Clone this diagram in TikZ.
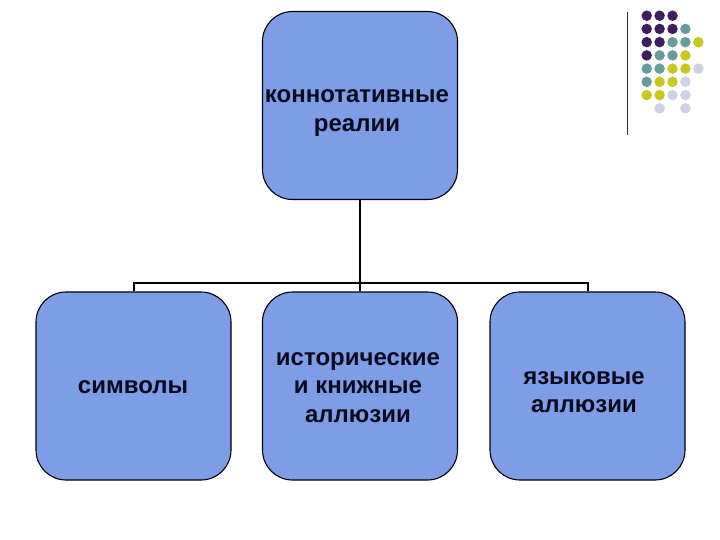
\documentclass[tikz,border=0pt]{standalone}
\usepackage{fontspec}
\setmainfont{Liberation Sans}
\definecolor{boxfill}{RGB}{125,157,230}
\definecolor{txtcol}{RGB}{10,10,30}
\definecolor{dotP}{RGB}{62,30,92}
\definecolor{dotT}{RGB}{104,156,156}
\definecolor{dotY}{RGB}{200,200,32}
\definecolor{dotL}{RGB}{208,208,232}
\tikzset{
  box/.style={draw=black, line width=1.1pt, fill=boxfill, rounded corners=30pt,
    minimum width=195pt, minimum height=188pt, inner sep=0pt},
  txt/.style={align=center, inner sep=0pt, text=txtcol,
    font=\fontsize{24}{28.6}\selectfont\bfseries},
  conn/.style={draw=black, line width=2pt},
  dot/.style={circle, inner sep=0pt, minimum size=10.5pt}
}
\def\nodot{N}
\begin{document}
\begin{tikzpicture}[x=1pt,y=-1pt]
\useasboundingbox (0,0) rectangle (720,540);
\node[box] (top) at (360,105.5) {};
\node[box] (left) at (133.5,386) {};
\node[box] (mid) at (360,386) {};
\node[box] (right) at (587.5,386) {};
\node[txt] (topT) at (357,113) {коннотативные\\реалии};
\node[txt] (leftT) at (133,387) {символы};
\node[txt] (midT) at (358,387.5) {исторические\\и книжные\\аллюзии};
\node[txt] (rightT) at (584,392) {языковые\\аллюзии};
\coordinate (j) at (360,283);
\draw[conn] (top.south) -- (mid.north);
\draw[conn] (left.north) |- (j) -| (right.north);
% decoration
\draw[line width=1pt, black!80] (627,12) -- (627,135);
\foreach \r/\row in {0/{P,P,P,N,N},1/{P,P,P,T,N},2/{P,P,T,T,Y},3/{P,T,T,Y,N},4/{T,T,Y,Y,L},5/{T,Y,Y,L,N},6/{Y,Y,L,L,N},7/{N,L,N,L,N}}{
  \foreach \c [count=\i from 0] in \row {
    \ifx\c\nodot\else
      \node[dot, fill=dot\c] (d\r\i) at ({646.7+12.9*\i},{15.7+13.23*\r}) {};
    \fi
  }
}
\end{tikzpicture}
\end{document}
